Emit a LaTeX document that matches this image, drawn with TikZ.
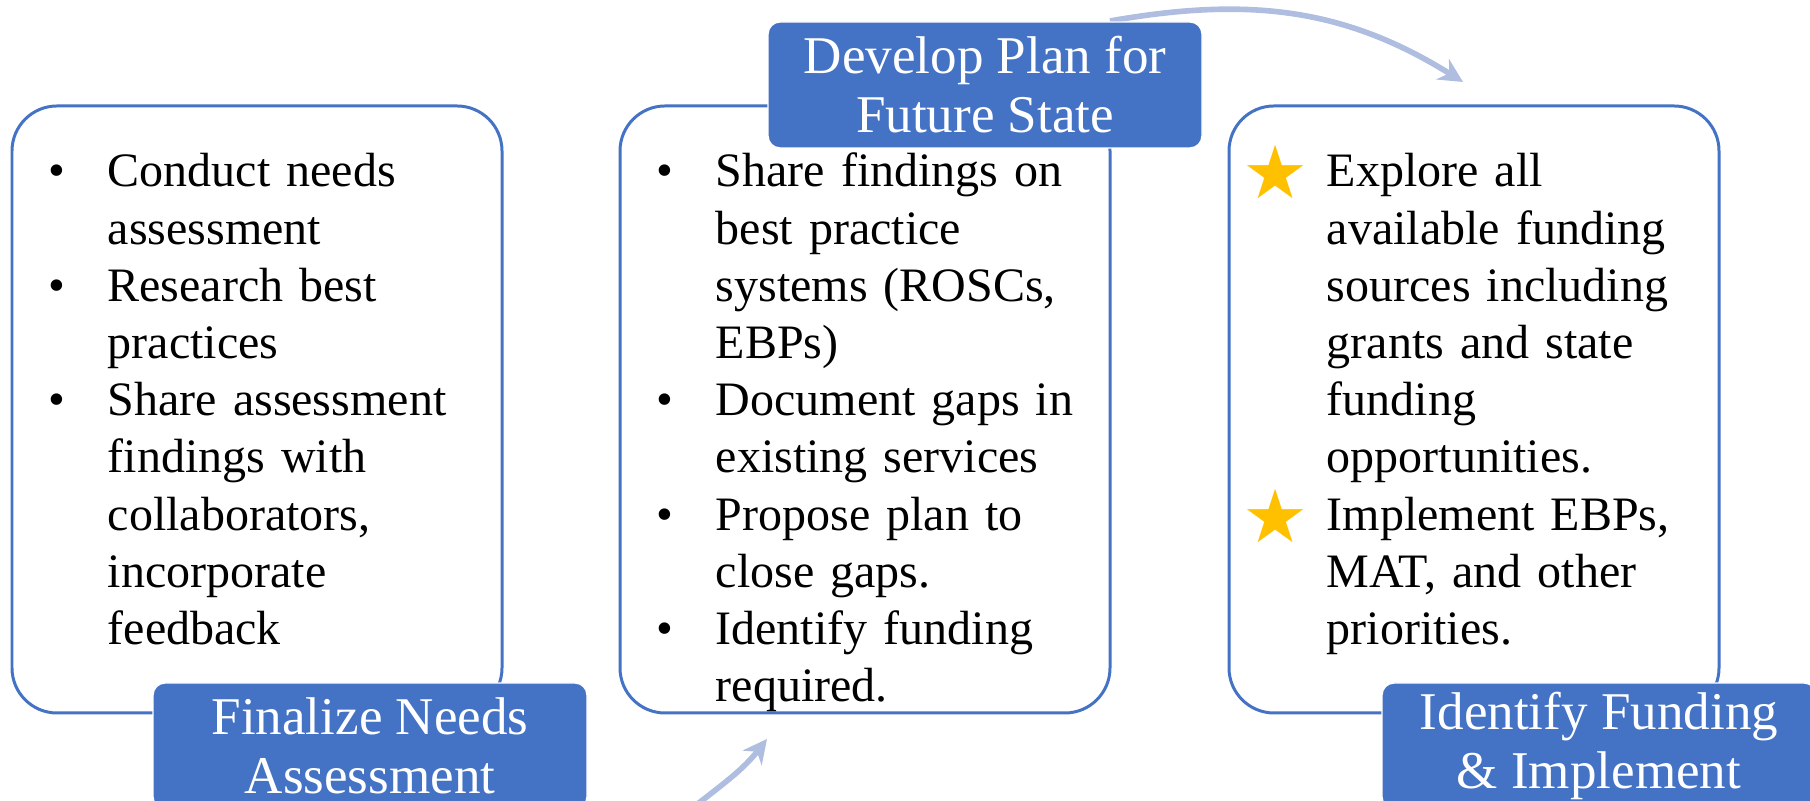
\documentclass[tikz,border=0pt]{standalone}
\usepackage{fontspec}
\setmainfont{Liberation Serif}
\newfontfamily\symfont{DejaVu Sans}
\usetikzlibrary{positioning,arrows.meta}

\definecolor{boxblue}{HTML}{4472C4}
\definecolor{arrowblue}{HTML}{AFBDE0}
\definecolor{stargold}{HTML}{FFC000}

%list markers with a hanging indent
\newcommand{\bul}{\noindent\hangindent=0.59cm\hangafter=1\makebox[0.59cm][l]{\textbullet}}
\newcommand{\staritem}{\noindent\hangindent=0.84cm\hangafter=1\makebox[0.84cm][l]{\smash{\raisebox{-0.12cm}{\symfont\fontsize{21}{21}\selectfont\color{stargold}★}}}}

\tikzset{
  stepbox/.style={draw=boxblue, line width=0.85pt, rounded corners=0.45cm, minimum width=4.9cm, minimum height=6.07cm, inner sep=0pt},
  titlebox/.style={fill=boxblue, draw=white, line width=0.4pt, rounded corners=0.12cm, text=white, minimum width=4.34cm, minimum height=1.26cm, align=center, inner sep=0pt, font=\fontsize{15.1}{16.8}\selectfont},
  steplist/.style={anchor=base west, inner sep=0pt, align=left, text width=4.7cm, font=\fontsize{13.66}{16.27}\selectfont},
  flowarrow/.style={draw=arrowblue, line width=1.6pt, -{Stealth[length=0.24cm,width=0.24cm]}}
}

\begin{document}
\begin{tikzpicture}
	\useasboundingbox (0,0) rectangle (18.10,8.01);
	\clip (0,0) rectangle (18.10,8.01);

	%the three rounded step boxes
	\node[stepbox] (leftbox) at (2.57,3.915) {};
	\node[stepbox] (midbox) at (8.65,3.915) {};
	\node[stepbox] (rightbox) at (14.74,3.915) {};

	%the lists inside them
	\node[steplist] (leftlist) at (0.48,6.14) {%
		\bul Conduct needs\newline assessment\par
		\bul Research best\newline practices\par
		\bul Share assessment\newline findings with\newline collaborators,\newline incorporate\newline feedback\par};
	\node[steplist] (midlist) at (6.56,6.14) {%
		\bul Share findings on\newline best practice\newline systems (ROSCs,\newline EBPs)\par
		\bul Document gaps in\newline existing services\par
		\bul Propose plan to\newline close gaps.\par
		\bul Identify funding\newline required.\par};
	\node[steplist] (rightlist) at (12.42,6.14) {%
		\staritem Explore all\newline available funding\newline sources including\newline grants and state\newline funding\newline opportunities.\par
		\staritem Implement EBPs,\newline MAT, and other\newline priorities.\par};

	%curved arrows between the steps
	\coordinate (topstart) at (11.10,7.80);
	\coordinate (topend) at (14.63,7.19);
	\coordinate (botstart) at (6.95,-0.05);
	\coordinate (botend) at (7.67,0.62);
	\draw[flowarrow] (topstart) to[out=10, in=148] (topend);
	\draw[flowarrow] (botstart) to[out=38, in=232] (botend);

	%step titles on top of the box borders
	\node[titlebox] (fintitle) at (3.70,0.55) {Finalize Needs\\ Assessment};
	\node[titlebox] (devtitle) at (9.85,7.16) {Develop Plan for\\ Future State};
	\node[titlebox] (fundtitle) at (15.99,0.55) {Identify Funding\\ \& Implement};
\end{tikzpicture}
\end{document}
